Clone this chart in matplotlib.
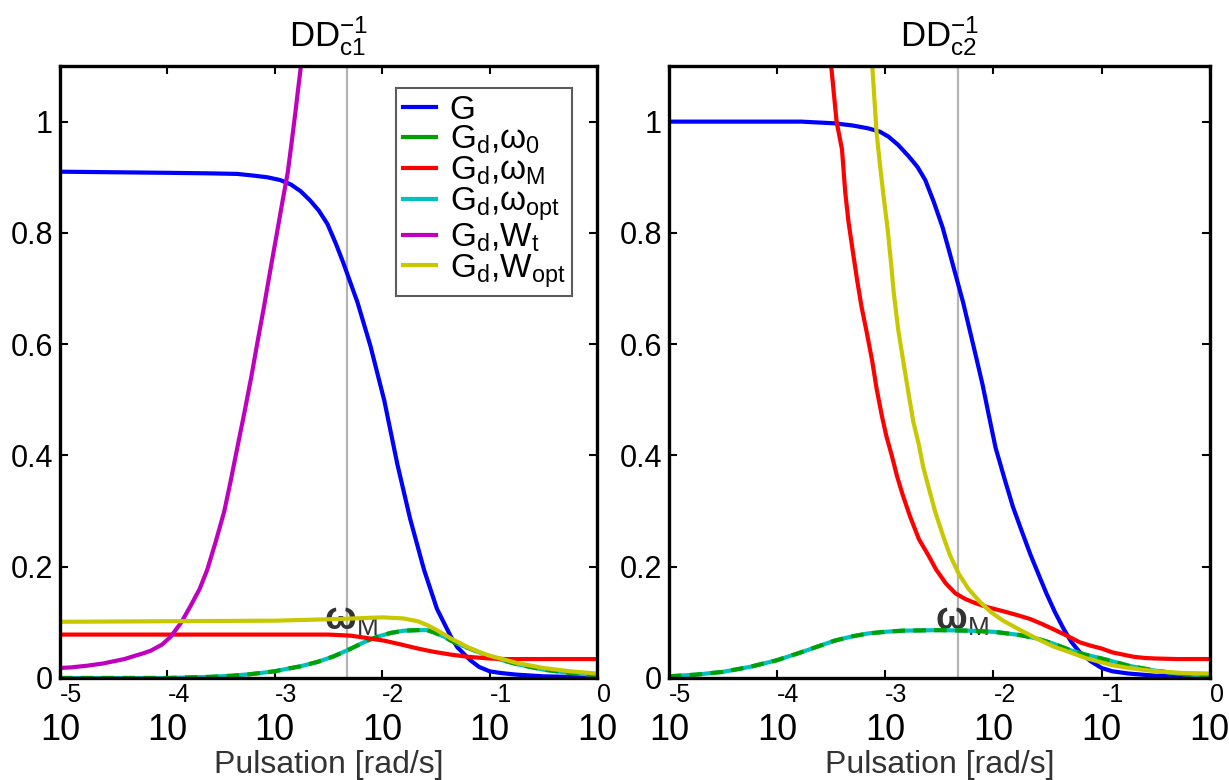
import numpy as np
import matplotlib
matplotlib.use("Agg")
import matplotlib.pyplot as plt
from matplotlib.lines import Line2D

plt.rcParams['font.family'] = ['Liberation Sans', 'DejaVu Sans']
plt.rcParams['mathtext.fontset'] = 'custom'
plt.rcParams['mathtext.rm'] = 'Liberation Sans'
plt.rcParams['mathtext.it'] = 'Liberation Sans'
plt.rcParams['mathtext.bf'] = 'Liberation Sans:bold'

# ---- data: log10(pulsation) and magnitude ----
# left panel (DD_c1^-1)
l_G_x = [-5, -4, -3.6, -3.35, -3.2, -3.07, -2.95, -2.85, -2.76, -2.67, -2.59, -2.51,
         -2.43, -2.36, -2.23, -2.11, -1.98, -1.86, -1.74, -1.61, -1.49, -1.36, -1.3,
         -1.18, -1.1, -1.0, -0.9, -0.75, -0.5, -0.25, 0]
l_G_y = [0.91, 0.908, 0.907, 0.906, 0.903, 0.90, 0.895, 0.887, 0.875, 0.858, 0.84, 0.816,
         0.78, 0.745, 0.675, 0.597, 0.498, 0.385, 0.286, 0.194, 0.124, 0.074, 0.055,
         0.032, 0.02, 0.012, 0.009, 0.006, 0.003, 0.002, 0.001]

l_w0_x = [-5, -4, -3.6, -3.4, -3.22, -3.0, -2.9, -2.76, -2.6, -2.45, -2.3, -2.14,
          -2.03, -1.92, -1.8, -1.67, -1.58, -1.52, -1.42, -1.36, -1.28, -1.2, -1.12,
          -1.05, -0.9, -0.75, -0.5, -0.25, 0]
l_w0_y = [0.0, 0.0, 0.002, 0.004, 0.007, 0.012, 0.016, 0.021, 0.029, 0.039, 0.052, 0.067,
          0.075, 0.081, 0.085, 0.086, 0.086, 0.082, 0.074, 0.067, 0.06, 0.054, 0.048,
          0.042, 0.033, 0.025, 0.015, 0.009, 0.005]

l_wM_x = [-5, -4, -3, -2.5, -2.29, -2.15, -1.98, -1.82, -1.67, -1.52, -1.36, -1.2,
          -1.0, -0.85, -0.7, -0.4, 0]
l_wM_y = [0.078, 0.078, 0.078, 0.078, 0.076, 0.072, 0.067, 0.06, 0.053, 0.047, 0.042, 0.038,
          0.035, 0.034, 0.034, 0.034, 0.034]

l_Wt_x = [-5, -4.9, -4.75, -4.6, -4.5, -4.4, -4.3, -4.23, -4.155, -4.05, -3.97, -3.87,
          -3.78, -3.7, -3.63, -3.55, -3.47, -3.41, -3.35, -3.28, -3.22, -3.16, -3.10,
          -3.04, -2.98, -2.93, -2.88, -2.845, -2.81, -2.785, -2.76]
l_Wt_y = [0.018, 0.019, 0.022, 0.026, 0.03, 0.034, 0.04, 0.044, 0.049, 0.06, 0.074, 0.10,
          0.131, 0.16, 0.194, 0.245, 0.30, 0.355, 0.413, 0.48, 0.54, 0.605, 0.668,
          0.735, 0.80, 0.855, 0.908, 0.96, 1.014, 1.055, 1.095]

l_Wopt_x = [-5, -4, -3, -2.4, -2.0, -1.8, -1.75, -1.67, -1.58, -1.5, -1.43, -1.36,
            -1.28, -1.2, -1.1, -1.0, -0.9, -0.75, -0.5, -0.25, 0]
l_Wopt_y = [0.101, 0.102, 0.103, 0.106, 0.109, 0.107, 0.105, 0.102, 0.095, 0.087, 0.079, 0.071,
            0.063, 0.055, 0.047, 0.04, 0.035, 0.027, 0.018, 0.012, 0.008]

# right panel (DD_c2^-1)
r_G_x = [-5, -4, -3.78, -3.47, -3.3, -3.16, -3.05, -2.97, -2.88, -2.78, -2.7, -2.63,
         -2.55, -2.47, -2.41, -2.35, -2.28, -2.22, -2.16, -2.10, -2.04, -1.98, -1.9,
         -1.82, -1.74, -1.66, -1.58, -1.51, -1.43, -1.35, -1.28, -1.2, -1.1, -1.0,
         -0.9, -0.75, -0.5, 0]
r_G_y = [1.0, 1.0, 1.0, 0.997, 0.993, 0.988, 0.982, 0.973, 0.958, 0.937, 0.918, 0.895,
         0.855, 0.81, 0.768, 0.725, 0.675, 0.626, 0.577, 0.527, 0.47, 0.414, 0.36,
         0.308, 0.265, 0.223, 0.185, 0.152, 0.118, 0.088, 0.065, 0.046, 0.03, 0.018,
         0.012, 0.008, 0.004, 0.001]

r_w0_x = [-5, -4.75, -4.5, -4.25, -4.0, -3.78, -3.47, -3.3, -3.16, -3.0, -2.84, -2.5,
          -2.22, -2.0, -1.91, -1.75, -1.6, -1.45, -1.29, -1.15, -1.0, -0.9, -0.75,
          -0.5, -0.25, 0]
r_w0_y = [0.003, 0.006, 0.011, 0.02, 0.032, 0.046, 0.067, 0.075, 0.08, 0.083, 0.085, 0.086,
          0.085, 0.083, 0.081, 0.077, 0.071, 0.062, 0.05, 0.042, 0.035, 0.03, 0.022,
          0.013, 0.007, 0.004]

r_wM_x = [-3.50, -3.45, -3.40, -3.37, -3.34, -3.30, -3.26, -3.22, -3.17, -3.12, -3.08,
          -3.03, -2.99, -2.94, -2.89, -2.84, -2.77, -2.69, -2.6, -2.53, -2.44, -2.35,
          -2.26, -2.16, -2.05, -1.91, -1.78, -1.66, -1.55, -1.45, -1.32, -1.2, -1.1,
          -1.0, -0.9, -0.8, -0.7, -0.6, -0.5, -0.3, 0]
r_wM_y = [1.1, 1.0, 0.95, 0.873, 0.82, 0.767, 0.715, 0.668, 0.62, 0.569, 0.52,
          0.47, 0.435, 0.40, 0.362, 0.33, 0.29, 0.25, 0.22, 0.195, 0.17, 0.152,
          0.142, 0.134, 0.127, 0.12, 0.113, 0.106, 0.097, 0.088, 0.076, 0.064, 0.058,
          0.053, 0.046, 0.042, 0.038, 0.036, 0.035, 0.034, 0.034]

r_Wopt_x = [-3.12, -3.08, -3.05, -3.02, -2.98, -2.95, -2.92, -2.88, -2.83, -2.78,
            -2.74, -2.69, -2.65, -2.60, -2.54, -2.47, -2.40, -2.32, -2.23, -2.13,
            -2.02, -1.91, -1.75, -1.60, -1.45, -1.29, -1.15, -1.0, -0.9, -0.75, -0.5,
            -0.25, 0]
r_Wopt_y = [1.1, 0.98, 0.925, 0.873, 0.81, 0.753, 0.69, 0.626, 0.565, 0.506,
            0.46, 0.42, 0.38, 0.343, 0.30, 0.258, 0.22, 0.187, 0.16, 0.138,
            0.118, 0.103, 0.086, 0.071, 0.057, 0.046, 0.036, 0.028, 0.023, 0.018, 0.012,
            0.009, 0.008]

omega_M_exp = -2.33
decades = [-5, -4, -3, -2, -1, 0]
yticks = [0, 0.2, 0.4, 0.6, 0.8, 1.0]
ytick_labels = ['0', '0.2', '0.4', '0.6', '0.8', '1']

BLUE = '#0000ff'
GREEN = '#00a000'
RED = '#ff0000'
CYAN = '#00c0c0'
MAGENTA = '#bf00bf'
YELLOW = '#c8c800'
LW = 3.0


def w(exps):
    return 10.0 ** np.asarray(exps, dtype=float)


def style_axes(ax, title):
    ax.set_xscale('log')
    ax.set_xlim(1e-5, 1e0)
    ax.set_ylim(0, 1.1)
    ax.set_yticks(yticks)
    ax.set_yticklabels(ytick_labels, fontsize=22)
    ax.set_xticks(w(decades))
    ax.set_xticklabels(['10'] * len(decades), fontsize=26)
    ax.xaxis.set_minor_locator(matplotlib.ticker.NullLocator())
    ax.tick_params(axis='both', direction='in', top=True, right=True,
                   length=6, width=1.5, color='black')
    ax.tick_params(axis='x', pad=25)
    ax.tick_params(axis='y', pad=5)
    for sp in ax.spines.values():
        sp.set_linewidth(2.4)
    for d in decades:
        ax.text(10.0 ** d, -0.008, f'{d}', transform=ax.get_xaxis_transform(),
                ha='left', va='top', fontsize=18)
    ax.set_xlabel('Pulsation [rad/s]', fontsize=23, color='#333333', labelpad=2)
    ax.set_title(title, fontsize=25, pad=14)
    ax.axvline(10.0 ** omega_M_exp, color='#b4b4b4', lw=1.6, zorder=1)
    ax.text(10.0 ** (omega_M_exp - 0.21), 0.087, r'$\mathbf{\omega}_\mathrm{M}$',
            fontsize=27, color='#333333', zorder=1.5)


fig = plt.figure(figsize=(12.29, 7.8), dpi=100)
ax1 = fig.add_axes([0.0488, 0.1308, 0.437, 0.7846])
ax2 = fig.add_axes([0.5443, 0.1308, 0.440, 0.7846])

# left panel
ax1.plot(w(l_G_x), l_G_y, color=BLUE, lw=LW)
ax1.plot(w(l_w0_x), l_w0_y, color=CYAN, lw=LW)
ax1.plot(w(l_w0_x), l_w0_y, color=GREEN, lw=LW, dashes=(3, 2))
ax1.plot(w(l_wM_x), l_wM_y, color=RED, lw=LW)
ax1.plot(w(l_Wt_x), l_Wt_y, color=MAGENTA, lw=LW)
ax1.plot(w(l_Wopt_x), l_Wopt_y, color=YELLOW, lw=LW)
style_axes(ax1, r'DD$_{\mathrm{c1}}^{\mathrm{-1}}$')

# right panel
ax2.plot(w(r_G_x), r_G_y, color=BLUE, lw=LW)
ax2.plot(w(r_w0_x), r_w0_y, color=CYAN, lw=LW)
ax2.plot(w(r_w0_x), r_w0_y, color=GREEN, lw=LW, dashes=(3, 2))
ax2.plot(w(r_wM_x), r_wM_y, color=RED, lw=LW)
ax2.plot(w(r_Wopt_x), r_Wopt_y, color=YELLOW, lw=LW)
style_axes(ax2, r'DD$_{\mathrm{c2}}^{\mathrm{-1}}$')

labels = [r'G',
          r'G$_\mathrm{d}$,$\mathrm{\omega}_\mathrm{0}$',
          r'G$_\mathrm{d}$,$\mathrm{\omega}_\mathrm{M}$',
          r'G$_\mathrm{d}$,$\mathrm{\omega}_\mathrm{opt}$',
          r'G$_\mathrm{d}$,W$_\mathrm{t}$',
          r'G$_\mathrm{d}$,W$_\mathrm{opt}$']
colors = [BLUE, GREEN, RED, CYAN, MAGENTA, YELLOW]
handles = [Line2D([0], [0], color=c, lw=LW) for c in colors]
leg = ax1.legend(handles, labels, loc='upper right', bbox_to_anchor=(0.953, 0.964),
                 fontsize=24, frameon=True, fancybox=False, handlelength=1.0,
                 handletextpad=0.4, labelspacing=-0.05, borderpad=0.2,
                 borderaxespad=0)
leg.get_frame().set_edgecolor('#333333')
leg.get_frame().set_linewidth(1.5)

fig.savefig('out.png', dpi=100)
